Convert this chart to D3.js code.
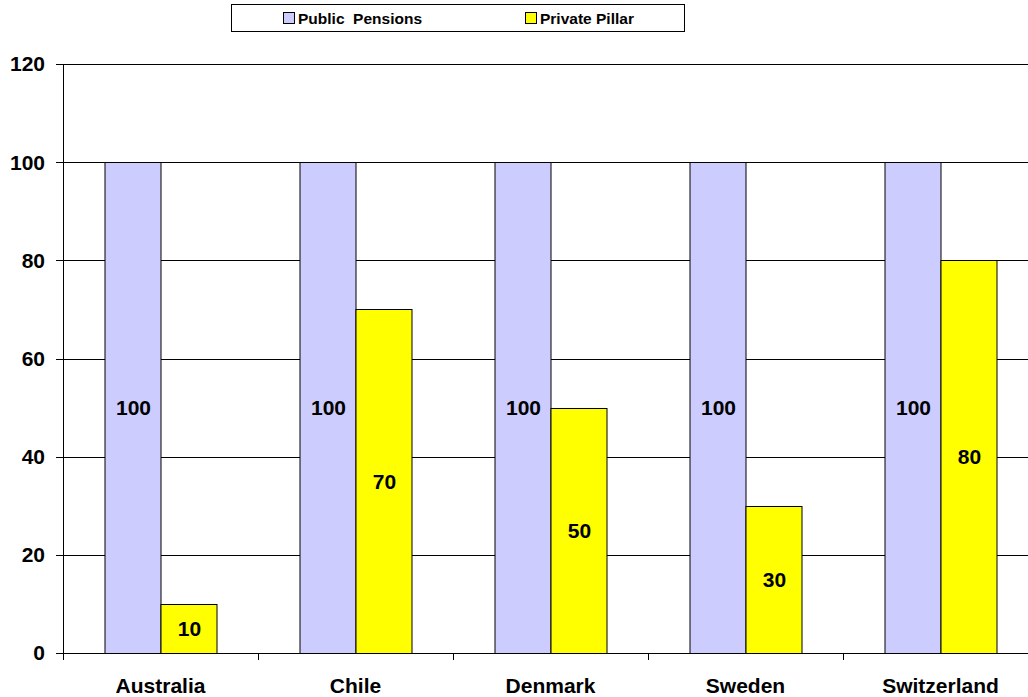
<!DOCTYPE html>
<html>
<head>
<meta charset="utf-8">
<script src="https://cdn.jsdelivr.net/npm/d3@7"></script>
<style>
  body { margin: 0; background: #fff; overflow: hidden; }
  text { font-family: "Liberation Sans", Arial, sans-serif; font-weight: bold; }
</style>
</head>
<body>
<script>
// chart data
var countries = ["Australia", "Chile", "Denmark", "Sweden", "Switzerland"];
var publicPensions = [100, 100, 100, 100, 100];
var privatePillar = [10, 70, 50, 30, 80];
var seriesNames = ["Public  Pensions", "Private Pillar"];
var seriesColors = ["#CCCCFF", "#FFFF00"];
var yTicks = [0, 20, 40, 60, 80, 100, 120];

var margin = {top: 64, left: 63, bottom: 44},
    width = 975,
    height = 653 - margin.top;

var svg = d3.select("body").append("svg")
  .attr("width", 1028)
  .attr("height", 697);

var g = svg.append("g").attr("transform", "translate(" + margin.left + "," + margin.top + ")");

var x = d3.scaleBand().domain(countries).range([0, width]);
var y = d3.scaleLinear().domain([0, 120]).range([height, 0]);
var barW = 56;

// gridlines
g.selectAll(".grid").data(yTicks.slice(1))
  .enter().append("line")
  .attr("x1", 0).attr("x2", width)
  .attr("y1", d => Math.round(y(d)) + 0.5).attr("y2", d => Math.round(y(d)) + 0.5)
  .attr("stroke", "#000").attr("stroke-width", 1);

// bars
var rows = countries.map((c, i) => ({country: c, vals: [publicPensions[i], privatePillar[i]]}));
var grp = g.selectAll(".grp").data(rows).enter().append("g")
  .attr("transform", d => "translate(" + (x(d.country) + x.bandwidth() / 2) + ",0)");

grp.each(function(d) {
  var sel = d3.select(this);
  d.vals.forEach(function(v, k) {
    var x0 = k == 0 ? -barW : 0;
    sel.append("rect")
      .attr("x", x0 + 0.5).attr("y", Math.round(y(v)) + 0.5)
      .attr("width", barW).attr("height", Math.round(y(0)) - Math.round(y(v)))
      .attr("fill", seriesColors[k]).attr("stroke", "#000").attr("stroke-width", 1);
    sel.append("text")
      .attr("x", x0 + barW / 2 + 1).attr("y", y(v / 2))
      .attr("dy", "0.35em").attr("text-anchor", "middle")
      .attr("font-size", 21).text(v);
  });
});

// axes
g.append("line").attr("x1", 0.5).attr("x2", 0.5).attr("y1", 0).attr("y2", height).attr("stroke", "#000");
g.append("line").attr("x1", 0).attr("x2", width).attr("y1", height + 0.5).attr("y2", height + 0.5).attr("stroke", "#000");

g.selectAll(".ytick").data(yTicks).enter().append("line")
  .attr("x1", -7).attr("x2", 0)
  .attr("y1", d => Math.round(y(d)) + 0.5).attr("y2", d => Math.round(y(d)) + 0.5)
  .attr("stroke", "#000");
g.selectAll(".ylab").data(yTicks).enter().append("text")
  .attr("x", -18).attr("y", d => y(d)).attr("dy", "0.35em")
  .attr("text-anchor", "end").attr("font-size", 21).text(d => d);

var bounds = countries.map(c => x(c)).concat([width]);
g.selectAll(".xtick").data(bounds).enter().append("line")
  .attr("x1", d => Math.round(d) + 0.5).attr("x2", d => Math.round(d) + 0.5)
  .attr("y1", height).attr("y2", height + 7)
  .attr("stroke", "#000");
g.selectAll(".xlab").data(countries).enter().append("text")
  .attr("x", d => x(d) + x.bandwidth() / 2).attr("y", height + 40)
  .attr("text-anchor", "middle").attr("font-size", 21).text(d => d);

// legend
var leg = svg.append("g");
leg.append("rect").attr("x", 231.5).attr("y", 4.5).attr("width", 453).attr("height", 27)
  .attr("fill", "#fff").attr("stroke", "#000");
var legX = [283, 525];
seriesNames.forEach(function(n, k) {
  leg.append("rect").attr("x", legX[k] + 0.5).attr("y", 12.5).attr("width", 11).attr("height", 11)
    .attr("fill", seriesColors[k]).attr("stroke", "#000");
  leg.append("text").attr("x", legX[k] + 15).attr("y", 24)
    .attr("font-size", 15.5).attr("xml:space", "preserve").style("white-space", "pre").text(n);
});
</script>
</body>
</html>
